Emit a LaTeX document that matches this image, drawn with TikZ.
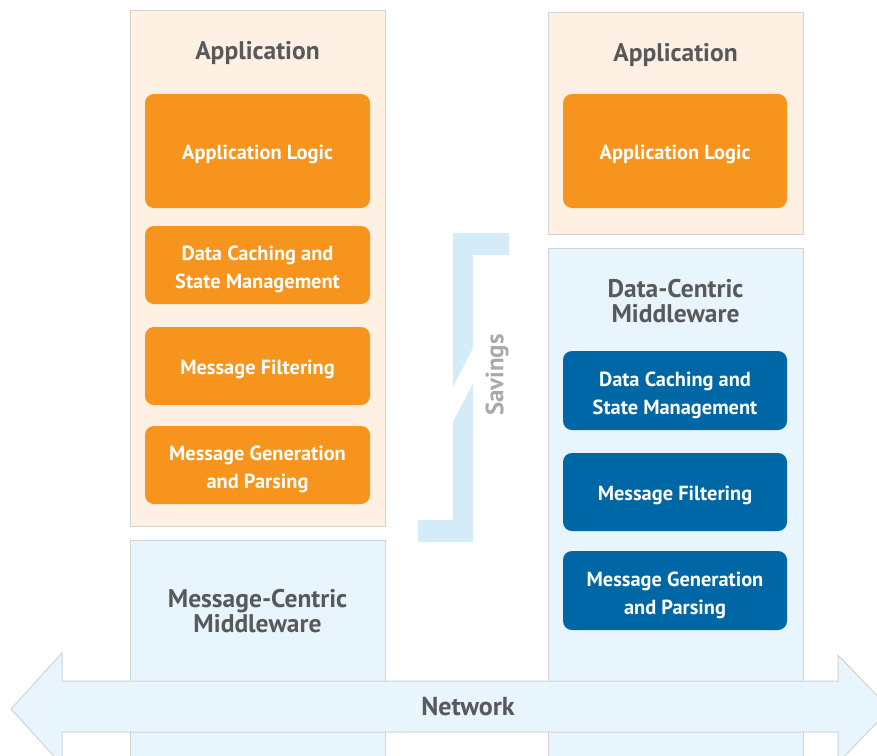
\documentclass[tikz,border=0pt]{standalone}
\usepackage{fontspec}
\setmainfont{PT Sans}
\begin{document}
\begin{tikzpicture}[x=1pt,y=-1pt,
  outerbox/.style={draw=borderg, line width=1pt, inner sep=0pt},
  appbg/.style={outerbox, fill=appfill},
  mwbg/.style={outerbox, fill=mwfill},
  boxtxt/.style={text=white, align=center, inner sep=0pt, font=\bfseries\fontsize{20.4}{28}\selectfont},
  obox/.style={fill=orangec, rounded corners=9pt, inner sep=0pt},
  bbox/.style={fill=bluec, rounded corners=9pt, inner sep=0pt},
  one/.style={label={[boxtxt, yshift=-3pt]center:#1}},
  two/.style={label={[boxtxt, yshift=-4.5pt]center:#1}},
  ttl/.style={text=titleg, align=center, font=\bfseries\fontsize{25.5}{25}\selectfont}
]
\definecolor{borderg}{HTML}{D1D3D4}
\definecolor{appfill}{HTML}{FEF0E3}
\definecolor{mwfill}{HTML}{E8F5FC}
\definecolor{orangec}{HTML}{F7941D}
\definecolor{bluec}{HTML}{0067A6}
\definecolor{titleg}{HTML}{58595B}
\definecolor{savc}{HTML}{D4EBF8}
\definecolor{savt}{HTML}{A7A9AC}
\useasboundingbox (0,0) rectangle (877,755);
% savings bracket
\fill[savc] (453,233) -- (509,233) -- (509,255) -- (473,255) -- (473,348) -- (453,387) -- cycle;
\fill[savc] (473,383) -- (473,542) -- (418,542) -- (418,520) -- (453,520) -- (453,422) -- cycle;
\node[rotate=90, text=savt, font=\bfseries\fontsize{25}{28}\selectfont] (sav) at (497,375) {Savings};
% left column
\node[appbg, minimum width=255pt, minimum height=516pt] (lapp) at (257.5,268) {};
\node[mwbg, minimum width=255pt, minimum height=240pt] (lmw) at (257.5,660) {};
\node[ttl] (lappt) at (257.5,52.5) {Application};
\node[ttl] (lmwt) at (257.5,611) {Message-Centric\\Middleware};
\node[obox, minimum width=225pt, minimum height=114pt, one={Application Logic}] (llog) at (257.5,151) {};
\node[obox, minimum width=225pt, minimum height=78pt, two={Data Caching and\\State Management}] (lcache) at (257.5,265) {};
\node[obox, minimum width=225pt, minimum height=78pt, one={Message Filtering}] (lfilt) at (257.5,366) {};
\node[obox, minimum width=225pt, minimum height=78pt, two={Message Generation\\and Parsing}] (lgen) at (257.5,465) {};
% right column
\node[appbg, minimum width=255pt, minimum height=222pt] (rapp) at (675.5,123) {};
\node[mwbg, minimum width=255pt, minimum height=522pt] (rmw) at (675.5,509) {};
\node[ttl] (rappt) at (675.5,54.5) {Application};
\node[ttl] (rmwt) at (675.5,301) {Data-Centric\\Middleware};
\node[obox, minimum width=224pt, minimum height=114pt, one={Application Logic}] (rlog) at (675,151) {};
\node[bbox, minimum width=224pt, minimum height=79pt, two={Data Caching and\\State Management}] (rcache) at (675,390.5) {};
\node[bbox, minimum width=224pt, minimum height=78pt, one={Message Filtering}] (rfilt) at (675,492) {};
\node[bbox, minimum width=224pt, minimum height=79pt, two={Message Generation\\and Parsing}] (rgen) at (675,590.5) {};
% network arrow
\filldraw[fill=mwfill, draw=borderg, line width=1pt, line join=miter]
  (11,709) -- (62,653) -- (62,681) -- (838,681) -- (838,655) -- (890,709) -- (838,763) -- (838,732) -- (62,732) -- (62,765) -- cycle;
\node[text=titleg, font=\bfseries\fontsize{26}{28}\selectfont] (net) at (468,706.5) {Network};
\end{tikzpicture}
\end{document}
